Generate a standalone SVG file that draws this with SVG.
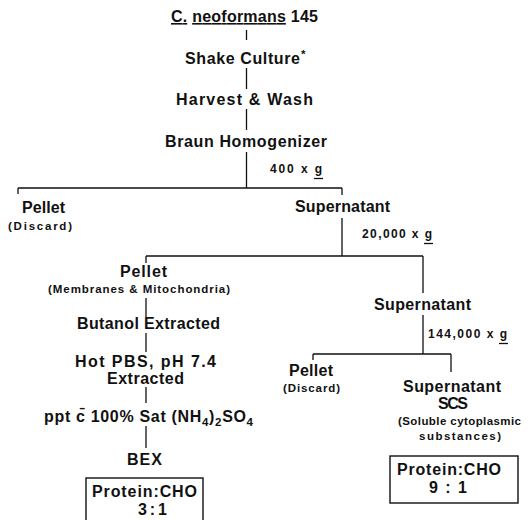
<svg xmlns="http://www.w3.org/2000/svg" width="532" height="520" viewBox="0 0 532 520">
<style>
text{font-family:"Liberation Sans",Arial,sans-serif;font-weight:bold;fill:#111}
.m{font-size:16px}
.s{font-size:11.5px}
.c{font-size:12px}
.ln{stroke:#111;stroke-width:1.3;fill:none}
.box{stroke:#111;stroke-width:1.4;fill:none}
.u{stroke:#111;stroke-width:1.3}
</style>
<rect width="532" height="520" fill="#fff"/>
<g id="connectors" class="ln">
<path d="M246.5 30V40M246.5 68V89M246.5 109V130M246.5 152V188"/>
<path d="M18 188H342M18 188V194M342 188V195"/>
<path d="M342 218V256M146 256H423M146 256V263M423 256V293"/>
<path d="M146 298V317M146 333V352M146 387V403M146 426V448"/>
<path d="M423 315V354M313 354H451M313 354V360M451 354V372"/>
</g>
<g id="start"><text class="m" x="171" y="22" textLength="147" lengthAdjust="spacing"><tspan text-decoration="underline">C.</tspan> <tspan text-decoration="underline">neoformans</tspan> 145</text></g>
<g id="shake"><text class="m" x="185" y="64" textLength="115" lengthAdjust="spacing">Shake Culture</text><text class="s" x="301" y="58">*</text></g>
<g id="harvest"><text class="m" x="176" y="105" textLength="137" lengthAdjust="spacing">Harvest &amp; Wash</text></g>
<g id="braun"><text class="m" x="165" y="147" textLength="162" lengthAdjust="spacing">Braun Homogenizer</text></g>
<g id="g400"><text class="c" x="270" y="173" textLength="52" lengthAdjust="spacing">400 x g</text><line class="u" x1="314" y1="178.5" x2="323" y2="178.5"/></g>
<g id="pellet1"><text class="m" x="22" y="213" textLength="43" lengthAdjust="spacing">Pellet</text><text class="s" x="8" y="230" textLength="64" lengthAdjust="spacing">(Discard)</text></g>
<g id="super1"><text class="m" x="295" y="212" textLength="95" lengthAdjust="spacing">Supernatant</text></g>
<g id="g20000"><text class="c" x="362" y="238" textLength="70" lengthAdjust="spacing">20,000 x g</text><line class="u" x1="424" y1="243.5" x2="433" y2="243.5"/></g>
<g id="pellet2"><text class="m" x="120" y="277" textLength="47" lengthAdjust="spacing">Pellet</text><text class="s" x="48" y="293" textLength="182" lengthAdjust="spacing">(Membranes &amp; Mitochondria)</text></g>
<g id="butanol"><text class="m" x="77" y="329" textLength="143" lengthAdjust="spacing">Butanol Extracted</text></g>
<g id="hotpbs"><text class="m" x="75" y="367" textLength="141" lengthAdjust="spacing">Hot PBS, pH 7.4</text><text class="m" x="107" y="384" textLength="77" lengthAdjust="spacing">Extracted</text></g>
<g id="ppt"><text class="m" x="44" y="422" textLength="209" lengthAdjust="spacing">ppt c&#x0304; 100% Sat (NH<tspan class="s" dy="4">4</tspan><tspan dy="-4">)</tspan><tspan class="s" dy="4">2</tspan><tspan dy="-4">SO</tspan><tspan class="s" dy="4">4</tspan></text></g>
<g id="bex"><text class="m" x="127" y="465" textLength="35" lengthAdjust="spacing">BEX</text>
<rect class="box" x="86" y="478" width="117" height="50"/>
<text class="m" x="92" y="497" textLength="105" lengthAdjust="spacing">Protein:CHO</text>
<text class="m" x="138" y="515" textLength="29" lengthAdjust="spacing">3:1</text></g>
<g id="super2"><text class="m" x="374" y="310" textLength="97" lengthAdjust="spacing">Supernatant</text></g>
<g id="g144000"><text class="c" x="428" y="338" textLength="79" lengthAdjust="spacing">144,000 x g</text><line class="u" x1="499" y1="343.5" x2="508" y2="343.5"/></g>
<g id="pellet3"><text class="m" x="289" y="376" textLength="44" lengthAdjust="spacing">Pellet</text><text class="s" x="283" y="392" textLength="57" lengthAdjust="spacing">(Discard)</text></g>
<g id="scs"><text class="m" x="403" y="392" textLength="98" lengthAdjust="spacing">Supernatant</text>
<text class="m" x="438" y="409" textLength="30" lengthAdjust="spacing">SCS</text>
<text class="s" x="398" y="425" textLength="123" lengthAdjust="spacing">(Soluble cytoplasmic</text>
<text class="s" x="419" y="440" textLength="82" lengthAdjust="spacing">substances)</text>
<rect class="box" x="390" y="456" width="128" height="47"/>
<text class="m" x="397" y="475" textLength="104" lengthAdjust="spacing">Protein:CHO</text>
<text class="m" x="429" y="493" textLength="38" lengthAdjust="spacing">9:1</text></g>
</svg>
